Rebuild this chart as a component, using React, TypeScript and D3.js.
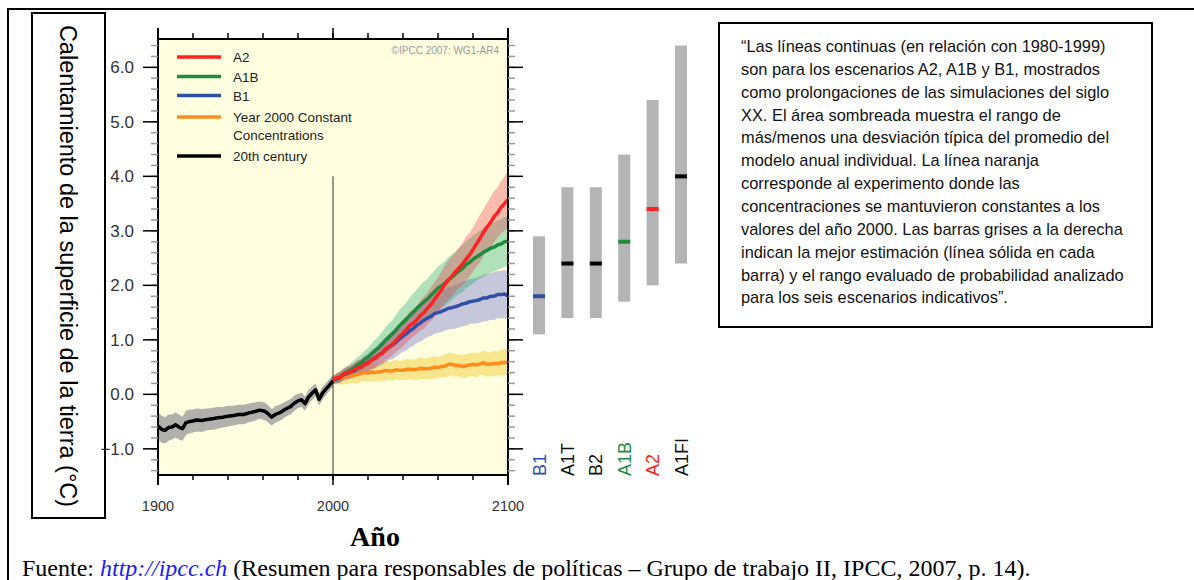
import React from "react";
import * as d3 from "d3";

const SANS = "'Liberation Sans', Arial, sans-serif";
const SERIF = "'Liberation Serif', 'Times New Roman', serif";

// 20th century multi-model mean and spread
const histYears = [1900, 1902, 1904, 1906, 1908, 1910, 1912, 1914, 1916, 1918, 1920, 1922, 1925, 1928, 1931, 1934, 1937, 1940, 1943, 1946, 1949, 1952, 1955, 1958, 1961, 1963, 1965, 1967, 1970, 1973, 1976, 1978, 1980, 1982, 1984, 1986, 1988, 1990, 1992, 1994, 1996, 1998, 2000];
const histMean = [-0.58, -0.64, -0.66, -0.61, -0.6, -0.56, -0.6, -0.63, -0.52, -0.5, -0.49, -0.47, -0.48, -0.46, -0.45, -0.43, -0.42, -0.4, -0.39, -0.37, -0.37, -0.34, -0.32, -0.29, -0.31, -0.36, -0.42, -0.37, -0.33, -0.27, -0.22, -0.16, -0.12, -0.1, -0.17, -0.05, 0.02, 0.08, -0.09, 0.02, 0.1, 0.17, 0.25];
const histSd = [0.25, 0.25, 0.24, 0.24, 0.23, 0.23, 0.23, 0.22, 0.22, 0.22, 0.21, 0.21, 0.21, 0.2, 0.2, 0.2, 0.19, 0.19, 0.18, 0.18, 0.18, 0.17, 0.17, 0.16, 0.16, 0.16, 0.15, 0.15, 0.15, 0.14, 0.14, 0.14, 0.13, 0.13, 0.13, 0.13, 0.12, 0.12, 0.12, 0.12, 0.11, 0.11, 0.11];

// 21st century projections (2-year steps)
const projYears = [2000, 2002, 2004, 2006, 2008, 2010, 2012, 2014, 2016, 2018, 2020, 2022, 2024, 2026, 2028, 2030, 2032, 2034, 2036, 2038, 2040, 2042, 2044, 2046, 2048, 2050, 2052, 2054, 2056, 2058, 2060, 2062, 2064, 2066, 2068, 2070, 2072, 2074, 2076, 2078, 2080, 2082, 2084, 2086, 2088, 2090, 2092, 2094, 2096, 2098, 2100];
const a2Mean = [0.26, 0.3, 0.31, 0.37, 0.4, 0.41, 0.45, 0.49, 0.5, 0.55, 0.57, 0.63, 0.66, 0.72, 0.75, 0.83, 0.87, 0.92, 0.99, 1.06, 1.12, 1.19, 1.27, 1.31, 1.37, 1.45, 1.5, 1.58, 1.65, 1.74, 1.83, 1.92, 2.02, 2.1, 2.17, 2.25, 2.32, 2.39, 2.48, 2.56, 2.66, 2.76, 2.86, 2.97, 3.07, 3.15, 3.26, 3.33, 3.43, 3.5, 3.58];
const a2Sd = [0.07, 0.09, 0.1, 0.09, 0.11, 0.12, 0.12, 0.13, 0.14, 0.15, 0.14, 0.16, 0.17, 0.16, 0.18, 0.19, 0.21, 0.2, 0.21, 0.23, 0.24, 0.25, 0.26, 0.25, 0.26, 0.28, 0.3, 0.29, 0.31, 0.32, 0.32, 0.34, 0.35, 0.36, 0.37, 0.36, 0.37, 0.39, 0.41, 0.4, 0.4, 0.42, 0.44, 0.43, 0.44, 0.46, 0.47, 0.46, 0.48, 0.5, 0.5];
const a1bMean = [0.26, 0.29, 0.32, 0.37, 0.41, 0.45, 0.49, 0.54, 0.58, 0.64, 0.68, 0.74, 0.8, 0.85, 0.92, 0.99, 1.05, 1.11, 1.18, 1.26, 1.32, 1.38, 1.45, 1.51, 1.58, 1.64, 1.7, 1.75, 1.82, 1.88, 1.95, 1.99, 2.04, 2.1, 2.15, 2.21, 2.26, 2.31, 2.38, 2.42, 2.48, 2.52, 2.56, 2.61, 2.64, 2.68, 2.7, 2.74, 2.76, 2.8, 2.81];
const a1bSd = [0.07, 0.09, 0.1, 0.11, 0.11, 0.12, 0.13, 0.14, 0.15, 0.16, 0.17, 0.19, 0.2, 0.21, 0.22, 0.24, 0.25, 0.26, 0.28, 0.29, 0.3, 0.31, 0.33, 0.34, 0.35, 0.36, 0.37, 0.37, 0.38, 0.39, 0.4, 0.4, 0.41, 0.42, 0.42, 0.41, 0.42, 0.43, 0.43, 0.44, 0.44, 0.43, 0.44, 0.45, 0.45, 0.44, 0.45, 0.46, 0.45, 0.46, 0.46];
const b1Mean = [0.26, 0.28, 0.31, 0.36, 0.38, 0.41, 0.43, 0.48, 0.5, 0.55, 0.59, 0.63, 0.67, 0.72, 0.76, 0.82, 0.87, 0.91, 0.96, 1.02, 1.07, 1.11, 1.17, 1.21, 1.27, 1.31, 1.36, 1.4, 1.43, 1.48, 1.5, 1.52, 1.55, 1.58, 1.59, 1.61, 1.63, 1.66, 1.67, 1.7, 1.71, 1.72, 1.74, 1.77, 1.77, 1.8, 1.8, 1.83, 1.83, 1.84, 1.81];
const b1Sd = [0.07, 0.08, 0.09, 0.11, 0.11, 0.12, 0.13, 0.14, 0.15, 0.16, 0.17, 0.18, 0.19, 0.21, 0.22, 0.23, 0.24, 0.26, 0.27, 0.28, 0.29, 0.3, 0.31, 0.32, 0.33, 0.34, 0.35, 0.35, 0.36, 0.37, 0.37, 0.38, 0.38, 0.39, 0.39, 0.4, 0.4, 0.41, 0.41, 0.41, 0.41, 0.42, 0.42, 0.43, 0.43, 0.43, 0.44, 0.43, 0.44, 0.44, 0.44];
const constMean = [0.26, 0.29, 0.3, 0.31, 0.33, 0.35, 0.36, 0.36, 0.38, 0.4, 0.39, 0.41, 0.4, 0.41, 0.42, 0.44, 0.43, 0.43, 0.45, 0.44, 0.44, 0.46, 0.46, 0.45, 0.46, 0.48, 0.47, 0.47, 0.48, 0.5, 0.49, 0.51, 0.52, 0.55, 0.55, 0.53, 0.53, 0.51, 0.52, 0.54, 0.55, 0.54, 0.56, 0.58, 0.55, 0.55, 0.57, 0.56, 0.58, 0.59, 0.57];
const constSd = [0.08, 0.1, 0.12, 0.13, 0.14, 0.14, 0.15, 0.16, 0.15, 0.16, 0.16, 0.17, 0.16, 0.17, 0.17, 0.18, 0.17, 0.18, 0.18, 0.17, 0.18, 0.19, 0.18, 0.19, 0.19, 0.2, 0.19, 0.19, 0.2, 0.21, 0.19, 0.2, 0.21, 0.22, 0.2, 0.21, 0.2, 0.21, 0.22, 0.21, 0.22, 0.23, 0.21, 0.22, 0.23, 0.22, 0.24, 0.22, 0.23, 0.24, 0.22];

// likely ranges at 2090-2099 for the six marker scenarios
const scenarios = ["B1", "A1T", "B2", "A1B", "A2", "A1FI"];
const scenBest = [1.8, 2.4, 2.4, 2.8, 3.4, 4.0];
const scenLow = [1.1, 1.4, 1.4, 1.7, 2.0, 2.4];
const scenHigh = [2.9, 3.8, 3.8, 4.4, 5.4, 6.4];
const scenColor = ["#2f4fa0", "#111111", "#111111", "#1e8c3c", "#ff2020", "#111111"];

const yTicks = [-1, 0, 1, 2, 3, 4, 5, 6];
const xTicks = [1900, 2000, 2100];

const legendItems = [
  { label: ["A2"], color: "#ff2020" },
  { label: ["A1B"], color: "#1e8c3c" },
  { label: ["B1"], color: "#3050a8" },
  { label: ["Year 2000 Constant", "Concentrations"], color: "#ff8c1a" },
  { label: ["20th century"], color: "#000000" },
];

const noteLines = [
  "\u201cLas líneas continuas (en relación con 1980-1999)",
  "son para los escenarios A2, A1B y B1, mostrados",
  "como prolongaciones de las simulaciones del siglo",
  "XX. El área sombreada muestra el rango de",
  "más/menos una desviación típica del promedio del",
  "modelo anual individual. La línea naranja",
  "corresponde al experimento donde las",
  "concentraciones se mantuvieron constantes a los",
  "valores del año 2000. Las barras grises a la derecha",
  "indican la mejor estimación (línea sólida en cada",
  "barra) y el rango evaluado de probabilidad analizado",
  "para los seis escenarios indicativos\u201d.",
];

export default function App() {
  const width = 1194;
  const height = 580;
  const left = 158, right = 508, top = 39, bottom = 475;

  const x = d3.scaleLinear().domain([1900, 2100]).range([left, right]);
  const y = d3.scaleLinear().domain([-1.48, 6.52]).range([bottom, top]);
  const xs = d3.scalePoint().domain(scenarios).range([539, 681]);
  const fmt = d3.format(".1f");

  const series = (years: number[], mean: number[], sd: number[]) =>
    years.map((yr, i) => ({ yr, m: mean[i], s: sd[i] }));
  const line = d3.line<any>().x((d) => x(d.yr)).y((d) => y(d.m));
  const band = d3.area<any>().x((d) => x(d.yr)).y0((d) => y(d.m - d.s)).y1((d) => y(d.m + d.s));

  const hist = series(histYears, histMean, histSd);
  const a2 = series(projYears, a2Mean, a2Sd);
  const a1b = series(projYears, a1bMean, a1bSd);
  const b1 = series(projYears, b1Mean, b1Sd);
  const cst = series(projYears, constMean, constSd);

  const minorY = d3.range(-14, 65, 2).map((v) => v / 10);
  const minorX = d3.range(1900, 2101, 20);

  return (
    <svg width={width} height={height} style={{ position: "absolute", left: 0, top: 0, background: "#fff" }}>
      {/* outer frame */}
      <path d={`M8,${height} V9 H${width}`} fill="none" stroke="#000" strokeWidth={2} />

      {/* y title box */}
      <rect x={32} y={13} width={73} height={505} fill="none" stroke="#000" strokeWidth={2} />
      <text
        transform={`translate(68,266) rotate(90)`}
        textAnchor="middle"
        dominantBaseline="central"
        fontFamily={SANS}
        fontSize={23.5}
      >
        Calentamiento de la superficie de la tierra (°C)
      </text>

      {/* plot area */}
      <rect x={left} y={top} width={right - left} height={bottom - top} fill="#ffffe0" />

      <path d={band(hist) || ""} fill="#9e9e9e" opacity={0.8} />
      <path d={band(cst) || ""} fill="rgba(240,200,40,0.45)" />
      <path d={band(b1) || ""} fill="rgba(70,70,210,0.3)" />
      <path d={band(a1b) || ""} fill="rgba(30,170,110,0.35)" />
      <path d={band(a2) || ""} fill="rgba(235,60,75,0.35)" />

      <line x1={x(2000)} x2={x(2000)} y1={y(4)} y2={bottom} stroke="#333" strokeWidth={1} />

      <g fill="none" strokeWidth={3.5} strokeLinejoin="round">
        <path d={line(hist) || ""} stroke="#000" />
        <path d={line(cst) || ""} stroke="#ff8c1a" />
        <path d={line(b1) || ""} stroke="#3050a8" />
        <path d={line(a1b) || ""} stroke="#1e8c3c" />
        <path d={line(a2) || ""} stroke="#ff2020" />
      </g>

      {/* legend */}
      {legendItems.map((it, i) => {
        const rows = [57, 76.5, 95.5, 117, 156];
        const ly = rows[i];
        return (
          <g key={it.color}>
            <line x1={177} x2={221} y1={ly} y2={ly} stroke={it.color} strokeWidth={3.5} />
            {it.label.map((t, j) => (
              <text key={t} x={233} y={ly + 5 + j * 18} fontFamily={SANS} fontSize={13.5} fill="#222">
                {t}
              </text>
            ))}
          </g>
        );
      })}
      <text x={499} y={54} textAnchor="end" fontFamily={SANS} fontSize={10} fill="#9a9a9a">
        ©IPCC  2007: WG1-AR4
      </text>

      {/* axes */}
      <g stroke="#000" strokeWidth={2}>
        <line x1={left} x2={right} y1={top} y2={top} />
        <line x1={left} x2={right} y1={bottom} y2={bottom} />
        <line x1={left} x2={left} y1={28} y2={485} />
        <line x1={right} x2={right} y1={28} y2={485} />
      </g>
      <g stroke="#999" strokeWidth={1.5}>
        {minorY.map((v) => (
          <g key={v}>
            <line x1={left - 7} x2={left} y1={y(v)} y2={y(v)} />
            <line x1={right} x2={right + 7} y1={y(v)} y2={y(v)} />
          </g>
        ))}
      </g>
      <g stroke="#000" strokeWidth={1.5}>
        {yTicks.map((v) => (
          <g key={v}>
            <line x1={left - 15} x2={left} y1={y(v)} y2={y(v)} />
            <line x1={right} x2={right + 15} y1={y(v)} y2={y(v)} />
          </g>
        ))}
        {minorX.map((v) => (
          <g key={v}>
            <line x1={x(v)} x2={x(v)} y1={top} y2={top - 6} />
            <line x1={x(v)} x2={x(v)} y1={bottom} y2={bottom + 5} />
          </g>
        ))}
        {xTicks.map((v) => (
          <g key={v}>
            <line x1={x(v)} x2={x(v)} y1={top} y2={top - 11} />
            <line x1={x(v)} x2={x(v)} y1={bottom} y2={bottom + 10} />
          </g>
        ))}
      </g>
      {yTicks.map((v) => (
        <text key={v} x={134} y={y(v) + 6} textAnchor="end" fontFamily={SANS} fontSize={17} fill="#333">
          {fmt(v)}
        </text>
      ))}
      {xTicks.map((v) => (
        <text key={v} x={x(v)} y={511} textAnchor="middle" fontFamily={SANS} fontSize={14.5} fill="#333">
          {v}
        </text>
      ))}

      {/* likely ranges */}
      {scenarios.map((s, i) => {
        const cx = xs(s) as number;
        return (
          <g key={s}>
            <rect x={cx - 6} y={y(scenHigh[i])} width={12} height={y(scenLow[i]) - y(scenHigh[i])} fill="#b4b4b4" />
            <rect x={cx - 6} y={y(scenBest[i]) - 2} width={12} height={4} fill={scenColor[i] === "#111111" ? "#000" : scenColor[i]} />
            <text
              transform={`translate(${cx + 6.5},476) rotate(-90)`}
              fontFamily={SANS}
              fontSize={18}
              fill={scenColor[i]}
            >
              {s}
            </text>
          </g>
        );
      })}

      {/* note box */}
      <rect x={719} y={23} width={433} height={304} fill="#fff" stroke="#000" strokeWidth={2} />
      {noteLines.map((t, i) => (
        <text key={i} x={741} y={52 + i * 22.85} fontFamily={SANS} fontSize={16.4} fill="#111">
          {t}
        </text>
      ))}

      {/* footer */}
      <text x={375} y={546} textAnchor="middle" fontFamily={SERIF} fontWeight="bold" fontSize={28}>
        Año
      </text>
      <text x={22} y={576} fontFamily={SERIF} fontSize={24}>
        Fuente:{" "}
        <tspan fill="#1a1aff" fontStyle="italic">http://ipcc.ch</tspan>
        {" "}(Resumen para responsables de políticas – Grupo de trabajo II, IPCC, 2007, p. 14).
      </text>
    </svg>
  );
}
